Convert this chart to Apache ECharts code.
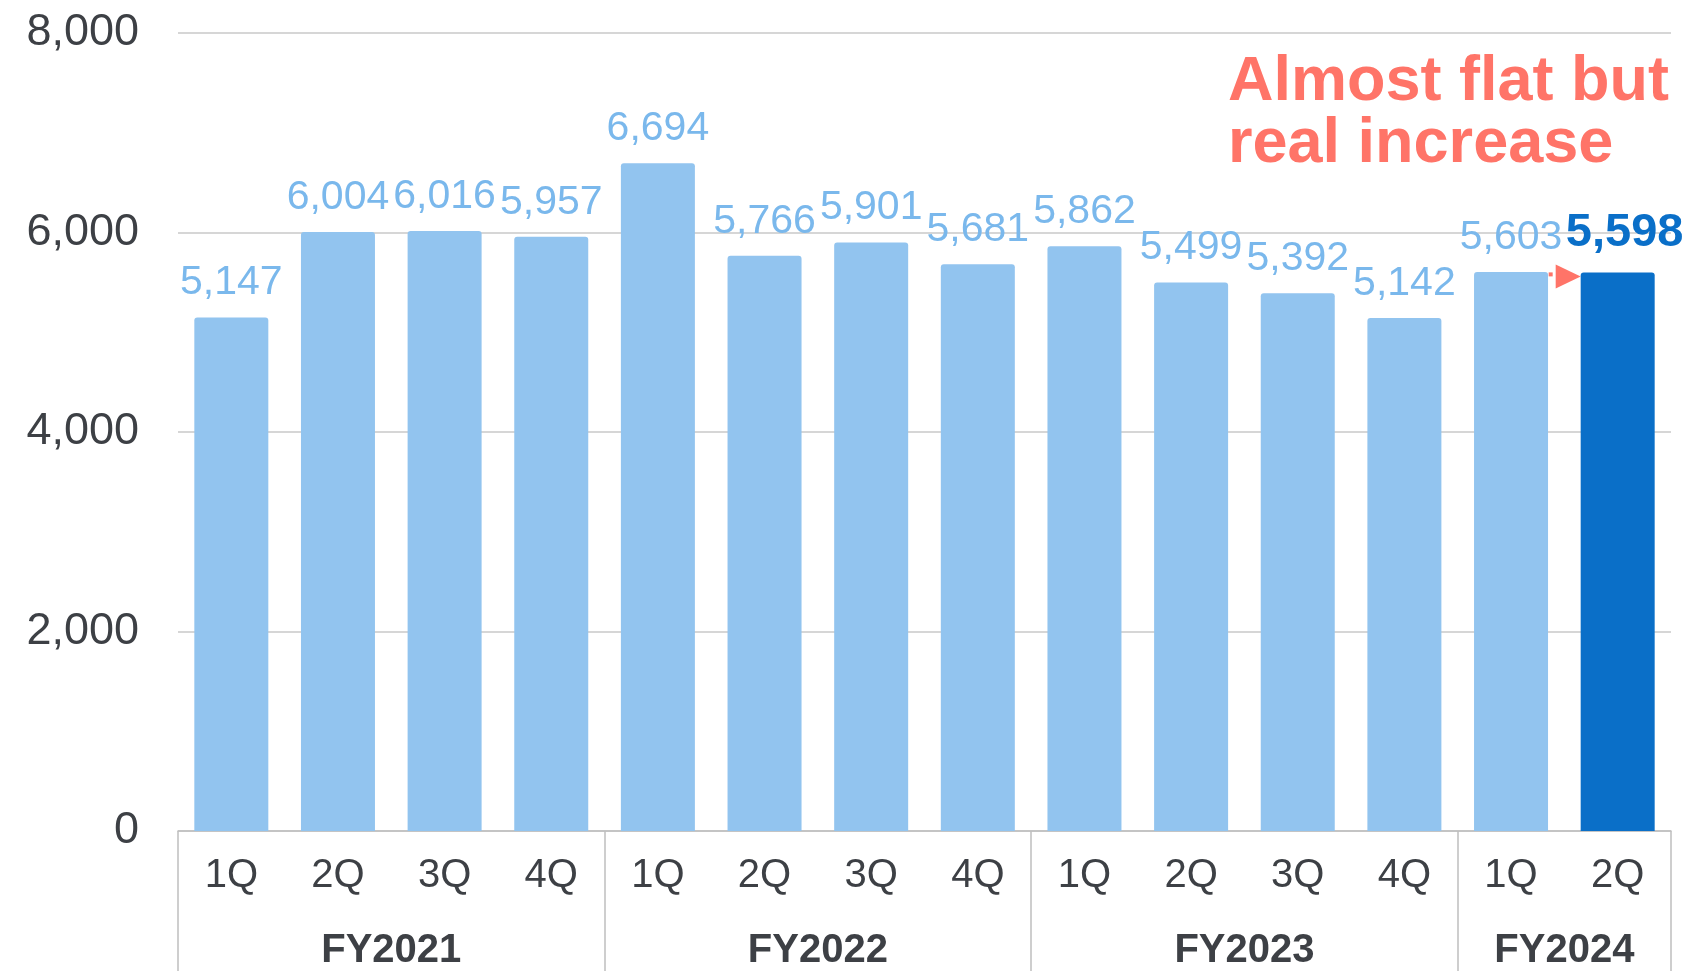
<!DOCTYPE html>
<html>
<head>
<meta charset="utf-8">
<script src="https://cdn.jsdelivr.net/npm/echarts@6/dist/echarts.min.js"></script>
<style>
  html, body { margin: 0; padding: 0; background: #fff; }
  #chart { width: 1685px; height: 971px; }
</style>
</head>
<body>
<div id="chart"></div>
<script>
const quarters = ['1Q', '2Q', '3Q', '4Q', '1Q', '2Q', '3Q', '4Q', '1Q', '2Q', '3Q', '4Q', '1Q', '2Q']
const fiscalYears = ['FY2021', 'FY2022', 'FY2023', 'FY2024']
const quartersPerYear = [4, 4, 4, 2]
const sales = [5147, 6004, 6016, 5957, 6694, 5766, 5901, 5681, 5862, 5499, 5392, 5142, 5603, 5598]
const note = 'Almost flat but\nreal increase'

const font = 'Liberation Sans, Arial, sans-serif'
const barWidth = 74

// group boundaries and group centres on a 0..n value axis
const bounds = [0]
quartersPerYear.forEach(n => bounds.push(bounds[bounds.length - 1] + n))
const centers = quartersPerYear.map((n, i) => bounds[i] + n / 2)

const last = sales.length - 1
const barData = sales.map((v, i) => {
  if (i !== last) return v
  return {
    value: v,
    itemStyle: { color: '#0a6fc8' },
    label: { color: '#0a6fc8', fontWeight: 'bold', fontSize: 47, offset: [7, -2] }
  }
})

const chart = echarts.init(document.getElementById('chart'))
chart.setOption({
  animation: false,
  title: {
    text: note,
    left: 1228,
    top: 52,
    padding: 0,
    textStyle: {
      fontFamily: font,
      fontSize: 63,
      fontWeight: 'bold',
      color: '#ff7468',
      lineHeight: 62
    }
  },
  grid: { left: 178, right: 14, top: 33, bottom: 138 },
  xAxis: [
    {
      type: 'category',
      data: quarters,
      axisLine: { lineStyle: { color: '#bfbfbf', width: 1.5 } },
      axisTick: { show: false },
      axisLabel: { fontFamily: font, fontSize: 40, color: '#3d4045', margin: 25, interval: 0 }
    },
    {
      type: 'value',
      position: 'bottom',
      min: 0,
      max: sales.length,
      axisLine: { show: false },
      splitLine: { show: false },
      axisTick: {
        show: true,
        customValues: bounds,
        length: 140,
        lineStyle: { color: '#bfbfbf', width: 1.5 }
      },
      axisLabel: {
        customValues: centers,
        formatter: v => fiscalYears[centers.indexOf(v)],
        fontFamily: font,
        fontSize: 40,
        fontWeight: 'bold',
        color: '#3d4045',
        margin: 100
      }
    }
  ],
  yAxis: {
    type: 'value',
    min: 0,
    max: 8000,
    interval: 2000,
    axisLine: { show: false },
    axisTick: { show: false },
    splitLine: { lineStyle: { color: '#c8c8c8', width: 1.5 } },
    axisLabel: {
      fontFamily: font,
      fontSize: 45,
      color: '#3d4045',
      margin: 39,
      padding: [12, 0, 0, 0],
      formatter: v => v.toLocaleString('en-US')
    }
  },
  series: [
    {
      type: 'bar',
      data: barData,
      barWidth: barWidth,
      itemStyle: { color: '#92c4ef', borderRadius: [3, 3, 0, 0] },
      label: {
        show: true,
        position: 'top',
        distance: 14,
        fontFamily: font,
        fontSize: 41,
        color: '#7ab8ec',
        formatter: p => p.value.toLocaleString('en-US')
      }
    }
  ]
})

// small arrow pointing from 1Q to 2Q of FY2024
const arrowLevel = 5560
const tipX = chart.convertToPixel({ xAxisIndex: 1 }, last + 0.5) - barWidth / 2
const arrowY = chart.convertToPixel({ yAxisIndex: 0 }, arrowLevel)
chart.setOption({
  graphic: [
    {
      type: 'polygon',
      shape: { points: [[tipX - 25, arrowY - 12], [tipX, arrowY], [tipX - 25, arrowY + 12]] },
      style: { fill: '#ff7468' },
      z: 100
    },
    {
      type: 'line',
      shape: { x1: tipX - 32, y1: arrowY - 2, x2: tipX - 28, y2: arrowY - 2 },
      style: { stroke: '#ff7468', lineWidth: 4 },
      z: 100
    }
  ]
})
</script>
</body>
</html>
